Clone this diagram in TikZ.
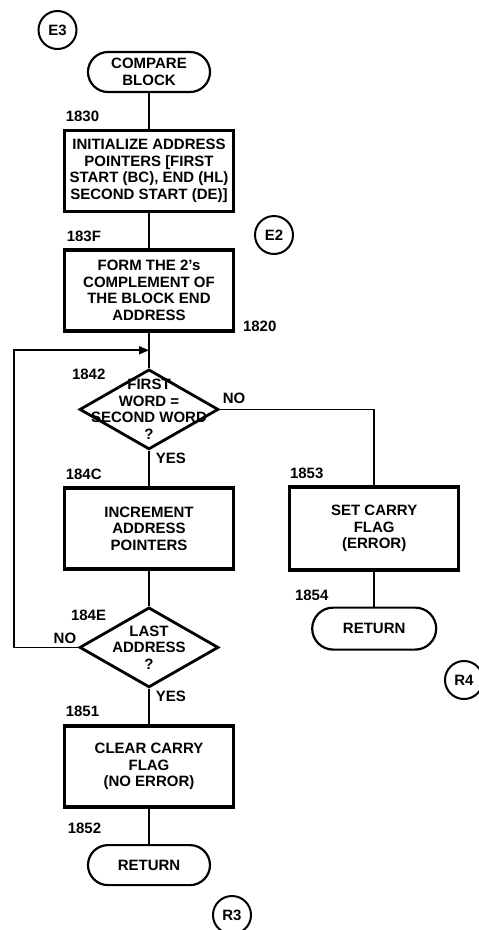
\documentclass[tikz,border=0pt]{standalone}
\usepackage{fontspec}
\setmainfont{Liberation Sans}
\usetikzlibrary{arrows.meta,positioning,shapes.geometric}

\begin{document}
\begin{tikzpicture}[x=1pt,y=-1pt,node distance=35.5pt and 53pt,line width=1.8pt,
      every node/.style={font=\fontsize{15}{16.5}\selectfont\bfseries},
      box/.style={draw,line width=3.2pt,align=center,minimum width=169pt,minimum height=81pt,inner sep=1pt},
      term/.style={draw,line width=2.2pt,rounded corners=20pt,align=center,minimum width=122pt,minimum height=40pt},
      decision/.style={draw,diamond,line width=2.8pt,minimum width=139pt,minimum height=80pt,inner sep=0pt},
      dtext/.style={align=center,inner sep=0pt},
      offpage/.style={draw,circle,line width=2pt,minimum size=38pt,inner sep=0pt},
      addr/.style={inner sep=0pt},
      >={Triangle[length=10pt,width=8pt]}]
    \useasboundingbox (0,0) rectangle (479,930);
    % main column
    \node[term] (cmpblk) at (149,72) {COMPARE\\BLOCK};
    \node[box,below=of cmpblk] (init) {INITIALIZE ADDRESS\\POINTERS [FIRST\\START (BC), END (HL)\\SECOND START (DE)]};
    \node[box,below=of init] (form) {FORM THE 2's\\COMPLEMENT OF\\THE BLOCK END\\ADDRESS};
    \node[decision,below=of form,label={[dtext]center:FIRST\\WORD =\\SECOND WORD\\?}] (same) {};
    \node[box,below=of same] (incr) {INCREMENT\\ADDRESS\\POINTERS};
    \node[decision,below=of incr,label={[dtext]center:LAST\\ADDRESS\\?}] (last) {};
    \node[box,below=of last] (clear) {CLEAR CARRY\\FLAG\\(NO ERROR)};
    \node[term,below=of clear] (ret1) {RETURN};
    % error branch
    \node[box,right=of incr,minimum height=83pt] (setc) {SET CARRY\\FLAG\\(ERROR)};
    \node[term,below=35pt of setc,minimum width=124pt,minimum height=42pt,rounded corners=21pt] (ret2) {RETURN};
    % off-page connectors
    \node[offpage] (e3) at (57.5,30) {E3};
    \node[offpage] (e2) at (274,235) {E2};
    \node[offpage] (r4) at (464,680) {R4};
    \node[offpage] (r3) at (232,915) {R3};
    \draw (cmpblk) -- (init);
    \draw (init) -- (form);
    \draw (form) -- coordinate (merge) (same);
    \draw (same) -- (incr);
    \draw (incr) -- (last);
    \draw (last) -- (clear);
    \draw (clear) -- (ret1);
    \draw (same.east) -| (setc.north);
    \draw (setc) -- (ret2);
    \draw[->] (last.west) -- ++(-64,0) |- (merge);
    % addresses and branch labels
    \node[addr,anchor=south west,xshift=2pt,yshift=6pt] (a1830) at (init.north west) {1830};
    \node[addr,anchor=south west,xshift=3pt,yshift=6pt] (a183f) at (form.north west) {183F};
    \node[addr,anchor=south west,xshift=7pt] (a1820) at (form.south east) {1820};
    \node[addr,anchor=north west,xshift=-7pt] (a1842) at (same.west |- same.north) {1842};
    \node[addr,anchor=south west,xshift=2pt,yshift=5pt] (no1) at (same.east) {NO};
    \node[addr,anchor=north west,xshift=6pt,yshift=-1pt] (yes1) at (same.south) {YES};
    \node[addr,anchor=south west,xshift=2pt,yshift=6pt] (a184c) at (incr.north west) {184C};
    \node[addr,anchor=south west,xshift=1pt,yshift=6pt] (a1853) at (setc.north west) {1853};
    \node[addr,anchor=south west,xshift=6pt,yshift=5pt] (a1854) at (setc.west |- ret2.north) {1854};
    \node[addr,anchor=north west,xshift=-8pt,yshift=-3pt] (a184e) at (last.west |- last.north) {184E};
    \node[addr,anchor=south east,xshift=-1pt,yshift=3pt] (no2) at (last.west) {NO};
    \node[addr,anchor=north west,xshift=6pt,yshift=-1pt] (yes2) at (last.south) {YES};
    \node[addr,anchor=south west,xshift=2pt,yshift=7pt] (a1851) at (clear.north west) {1851};
    \node[addr,anchor=south west,xshift=4pt,yshift=9pt] (a1852) at (clear.west |- ret1.north) {1852};
  \end{tikzpicture}
\end{document}
